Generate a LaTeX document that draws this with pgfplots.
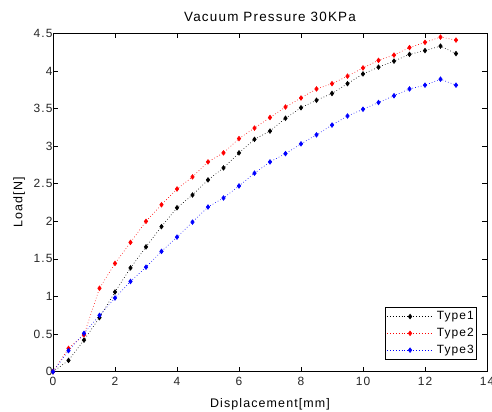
\documentclass[border=0pt]{standalone}
\usepackage{pgfplots}
\pgfplotsset{compat=1.18}
\usepackage{fontspec}
\setmainfont{Liberation Sans}[LetterSpace=9]

\pgfplotstableread{
x    t1    t2    t3
0    0.00  0.00  0.00
0.5  0.15  0.31  0.28
1    0.42  0.49  0.51
1.5  0.72  1.11  0.75
2    1.06  1.44  0.98
2.5  1.38  1.72  1.20
3    1.66  2.00  1.39
3.5  1.93  2.22  1.60
4    2.18  2.43  1.79
4.5  2.35  2.59  1.99
5    2.55  2.79  2.19
5.5  2.71  2.91  2.31
6    2.91  3.10  2.47
6.5  3.09  3.24  2.64
7    3.20  3.38  2.79
7.5  3.37  3.52  2.90
8    3.51  3.64  3.03
8.5  3.61  3.76  3.15
9    3.70  3.83  3.28
9.5  3.83  3.93  3.40
10   3.96  4.04  3.49
10.5 4.05  4.14  3.58
11   4.13  4.21  3.67
11.5 4.22  4.31  3.76
12   4.27  4.38  3.81
12.5 4.33  4.45  3.89
13   4.23  4.41  3.81
}\loaddata

\begin{document}
\begin{tikzpicture}
\useasboundingbox (-53bp,-40.3bp) rectangle (439bp,371.7bp);
\begin{axis}[
    at={(0,0)}, anchor=south west,
    scale only axis,
    width=434bp, height=338.4bp,
    xmin=0, xmax=14, ymin=0, ymax=4.5,
    xtick={0,2,...,14},
    ytick={0,0.5,...,4.5},
    tick align=inside,
    major tick length=5bp,
    axis line style={line width=0.7bp},
    every tick/.style={line width=0.6bp, black},
    /pgf/number format/assume math mode=true,
    tick label style={font=\fontsize{12}{13}\selectfont, text=black!85},
    xticklabel style={yshift=-2bp},
    yticklabel style={xshift=3bp},
    title={Vacuum Pressure 30KPa},
    title style={font=\fontsize{13.5}{15}\selectfont, yshift=2bp},
    xlabel={Displacement[mm]},
    ylabel={Load[N]},
    label style={font=\fontsize{12.5}{14}\selectfont},
    xlabel style={yshift=-6bp},
    ylabel style={yshift=2bp},
    legend style={at={(0.977,0.035)}, anchor=south east,
        font=\fontsize{12}{13}\selectfont, draw=black, line width=0.6bp,
        inner xsep=1bp, inner ysep=2.5bp, row sep=3bp,
        /tikz/every odd column/.append style={column sep=1.5bp}},
    legend cell align=left,
    legend image code/.code={
        \draw[#1, mark repeat=2, mark phase=2]
            plot coordinates {(0bp,0bp) (23bp,0bp) (46bp,0bp)};},
    every axis plot/.append style={line width=0.6bp,
        dash pattern=on 0.7bp off 2.2bp,
        mark=diamond*, mark size=2.3bp,
        mark options={solid}},
]
\addplot[black] table[x=x, y=t1] {\loaddata};
\addplot[red] table[x=x, y=t2] {\loaddata};
\addplot[blue] table[x=x, y=t3] {\loaddata};
\legend{Type1, Type2, Type3}
\end{axis}
\end{tikzpicture}
\end{document}
